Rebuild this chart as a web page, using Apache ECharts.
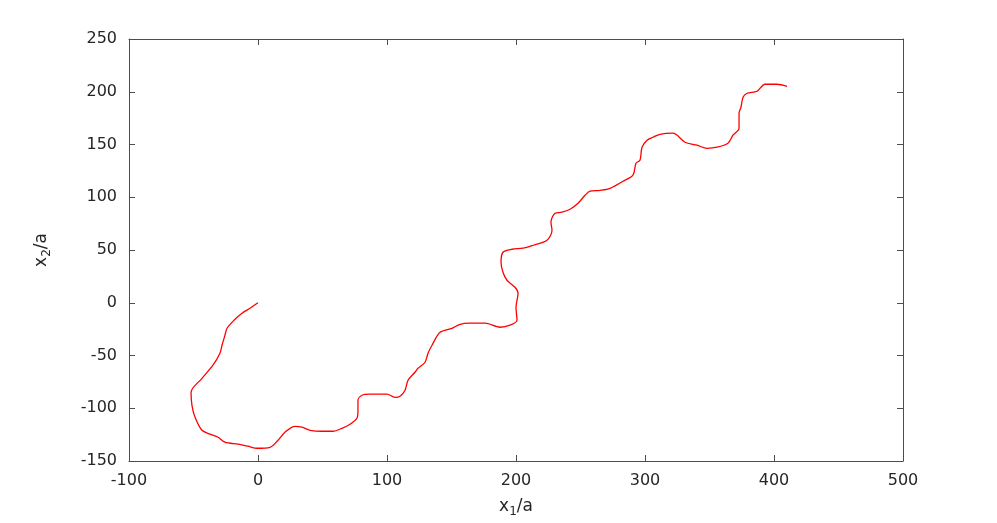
<!DOCTYPE html>
<html>
<head>
<meta charset="utf-8">
<script src="https://cdn.jsdelivr.net/npm/echarts@6/dist/echarts.min.js"></script>
<style>
  html, body { margin: 0; padding: 0; background: #fff; }
  #main { width: 997px; height: 523px; }
</style>
</head>
<body>
<div id="main"></div>
<script>
// trajectory, x1/a and x2/a
var x1 = [0, -6.2, -12.4, -18.6, -24, -25.6, -27.9, -29.5, -34.9, -43.4, -51.9, -51.2, -48.8, -43.4, -37.2, -31, -25.6, -15.5, -7.8, -0.8,
  9.3, 15.5, 20.9, 28.7, 34.1, 40.3, 49.6, 58.1, 65.1, 71.3, 76.7, 77.5, 77.5, 80.6, 86.8, 94.6, 100, 106.2, 110.1,
  114, 116.3, 121.7, 124, 129.5, 131.8, 134.9, 141.1, 150.4, 156.6, 164.3, 176, 187.6, 195.3, 200.8, 200, 201.6,
  199.2, 193, 189.9, 188.4, 189.9, 196.9, 205.4, 213.2, 224, 227.9, 227.1, 230.2, 235.7, 241.9, 248.1, 253.5,
  257.4, 265.1, 272.9, 283, 290.7, 293, 296.1, 297.7, 301.6, 306.2, 311.6, 321.7, 331, 340.3, 348.1, 355.8,
  364.3, 368.2, 372.9, 372.9, 374.4, 376, 379.1, 386.8, 393, 402.3, 410.1];
var x2 = [0, -5.2, -10, -16.6, -24.2, -30.8, -40.3, -47.9, -59.2, -71.6, -84.8, -97.2, -108.5, -120.9, -124.6, -127.5, -132.2, -134.1, -136, -137.9,
  -137, -130.3, -122.7, -117.1, -118, -120.9, -121.8, -121.8, -119, -115.2, -109.5, -101.9, -92.4, -87.7, -86.7, -86.7, -86.7, -89.6, -88.6,
  -82.9, -73.5, -65.9, -62.1, -56.4, -47.9, -40.3, -28, -24.2, -20.4, -19.4, -19.4, -23.2, -21.3, -16.6, -4.3, 9,
  14.7, 21.3, 28.9, 38.4, 47.9, 50.7, 51.7, 54.5, 59.2, 68.7, 76.3, 84.8, 85.8, 88.6, 94.3, 101.9,
  105.7, 106.6, 108.5, 115.2, 120.9, 132.2, 135.1, 147.4, 154, 156.9, 159.7, 160.7, 152.1, 149.3, 146.4, 147.4,
  151.2, 158.8, 165.4, 179.6, 185.3, 194.8, 198.6, 200.5, 207.1, 207.1, 205.2];

var pts = x1.map(function (v, i) { return [v, x2[i]]; });

var chart = echarts.init(document.getElementById("main"));
var font = "DejaVu Sans";
var axisCol = "#4d4d4d";

var boxAxis = {
  axisLine: { show: true, onZero: false, lineStyle: { color: axisCol, width: 1 } },
  axisTick: { show: true, inside: true, length: 6, lineStyle: { color: axisCol } },
  splitLine: { show: false }
};

var nameRich = {
  a: { fontFamily: font, fontSize: 17, color: "#262626" },
  s: { fontFamily: font, fontSize: 12, color: "#262626", verticalAlign: "bottom", padding: [10, 0, 0, 0] }
};

var option = {
  animation: false,
  backgroundColor: "#fff",
  grid: { left: 129, right: 94, top: 39, bottom: 62 },
  xAxis: [
    Object.assign({
      type: "value", position: "bottom", min: -100, max: 500, interval: 100,
      name: "{a|x}{s|1}{a|/a}", nameLocation: "middle", nameGap: 35,
      nameTextStyle: { rich: nameRich },
      axisLabel: { fontFamily: font, fontSize: 16, color: "#262626", margin: 12 }
    }, boxAxis),
    Object.assign({
      type: "value", position: "top", min: -100, max: 500, interval: 100,
      axisLabel: { show: false }
    }, boxAxis)
  ],
  yAxis: [
    Object.assign({
      type: "value", position: "left", min: -150, max: 250, interval: 50,
      name: "{a|x}{s|2}{a|/a}", nameLocation: "middle", nameGap: 76,
      nameTextStyle: { rich: nameRich },
      axisLabel: { fontFamily: font, fontSize: 16, color: "#262626", margin: 12 }
    }, boxAxis),
    Object.assign({
      type: "value", position: "right", min: -150, max: 250, interval: 50,
      axisLabel: { show: false }
    }, boxAxis)
  ],
  series: [{
    type: "line",
    data: pts,
    showSymbol: false,
    smooth: 0.3,
    lineStyle: { color: "#ff0000", width: 1.3 }
  }]
};

chart.setOption(option);
</script>
</body>
</html>
